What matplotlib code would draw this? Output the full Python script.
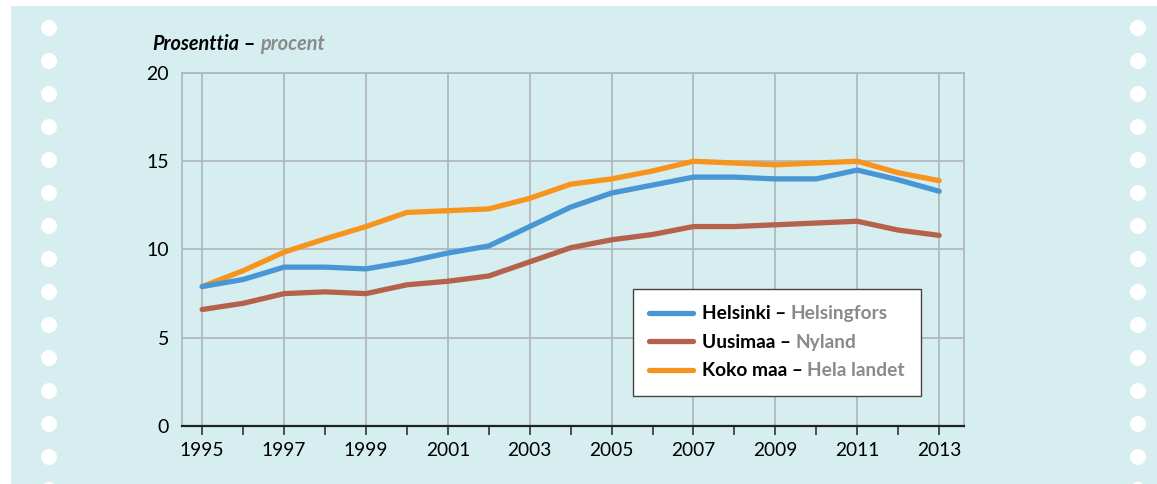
import matplotlib
matplotlib.use('Agg')
import matplotlib.pyplot as plt
from matplotlib.patches import Rectangle, Circle
from matplotlib.lines import Line2D

# Data
years = list(range(1995, 2014))
helsinki = [7.9, 8.3, 9.0, 9.0, 8.9, 9.3, 9.8, 10.2, 11.3, 12.4, 13.2, 13.65, 14.1, 14.1, 14.0, 14.0, 14.5, 13.95, 13.3]
uusimaa = [6.6, 6.95, 7.5, 7.6, 7.5, 8.0, 8.2, 8.5, 9.3, 10.1, 10.55, 10.85, 11.3, 11.3, 11.4, 11.5, 11.6, 11.1, 10.8]
koko_maa = [7.9, 8.8, 9.85, 10.6, 11.3, 12.1, 12.2, 12.3, 12.9, 13.7, 14.0, 14.45, 15.0, 14.9, 14.8, 14.9, 15.0, 14.35, 13.9]

labels_fi = ['Helsinki', 'Uusimaa', 'Koko maa']
labels_sv = ['Helsingfors', 'Nyland', 'Hela landet']
y_ticks = [0, 5, 10, 15, 20]
x_labels = list(range(1995, 2014, 2))

colors = {'helsinki': '#4896D3', 'uusimaa': '#B5614B', 'koko_maa': '#F7941E'}
bg = '#D6EEF0'
grid_c = '#AEB4B8'
grey_txt = '#8A8A8A'

plt.rcParams['font.family'] = ['Lato', 'DejaVu Sans']

fig = plt.figure(figsize=(11.57, 4.84), dpi=100)
W, H = 1157, 484

# panel background and punched holes
fig.patches.append(Rectangle((11 / W, 0), 1 - 11 / W, 1 - 6 / H, transform=fig.transFigure,
                             facecolor=bg, edgecolor='none', zorder=-2))
for cx in (49, 1138):
    for i in range(15):
        cy = 28 + 33 * i
        fig.patches.append(Circle((cx, H - cy), 8, transform=None, facecolor='white',
                                  edgecolor='none', zorder=-1))

ax = fig.add_axes([181.7 / W, (H - 426) / H, (963.7 - 181.7) / W, (426 - 73) / H])
ax.set_facecolor('none')
ax.set_zorder(2)

ax.plot(years, koko_maa, color=colors['koko_maa'], lw=3.8, solid_capstyle='round', zorder=3)
ax.plot(years, uusimaa, color=colors['uusimaa'], lw=3.8, solid_capstyle='round', zorder=4)
ax.plot(years, helsinki, color=colors['helsinki'], lw=3.8, solid_capstyle='round', zorder=5)

ax.set_xlim(1994.5, 2013.6)
ax.set_ylim(0, 20)
ax.set_yticks(y_ticks)
ax.set_xticks(years)
ax.set_xticklabels([str(y) if y in x_labels else '' for y in years])
ax.tick_params(axis='x', length=6.5, width=1.1, color='#222222', pad=5, labelsize=13.8)
ax.tick_params(axis='y', length=0, pad=9, labelsize=14)

for y in y_ticks[1:]:
    ax.axhline(y, color=grid_c, lw=1.2, zorder=1)
for x in x_labels:
    ax.axvline(x, color=grid_c, lw=1.2, zorder=1)

for side in ('left', 'top', 'right'):
    ax.spines[side].set_color(grid_c)
    ax.spines[side].set_linewidth(1.2)
ax.spines['bottom'].set_color('#222222')
ax.spines['bottom'].set_linewidth(1.6)
ax.spines['bottom'].set_zorder(6)

# legend
fs = 13.8
handles = [Line2D([], [], color=colors[k], lw=3.8, solid_capstyle='round')
           for k in ('helsinki', 'uusimaa', 'koko_maa')]
full = [f'{a} \u2013 {b}' for a, b in zip(labels_fi, labels_sv)]
leg = ax.legend(handles, full, loc='upper left', bbox_to_anchor=(0.577, 0.388), borderaxespad=0,
                fancybox=False, framealpha=1, edgecolor='#444444', facecolor='white',
                prop={'weight': 'bold', 'size': fs}, handlelength=2.3, handletextpad=0.45,
                borderpad=0.85, labelspacing=0.6)
leg.get_frame().set_linewidth(1.0)
leg.set_zorder(10)
fig.canvas.draw()
for txt, a, b in zip(leg.get_texts(), labels_fi, labels_sv):
    txt.set_alpha(0)
    t1 = ax.annotate(f'{a} \u2013 ', xy=(0, 0), xycoords=txt, va='bottom', ha='left',
                     fontsize=fs, fontweight='bold', color='black', zorder=11)
    ax.annotate(b, xy=(1, 0), xycoords=t1, va='bottom', ha='left',
                fontsize=fs, fontweight='bold', color=grey_txt, zorder=11)

# unit title
t1 = fig.text(152 / W, 1 - 44 / H, 'Prosenttia', fontsize=14.3, fontweight='bold', style='italic',
              va='center', ha='left', color='black', zorder=5)
t2 = fig.text(0, 0, ' \u2013 ', fontsize=14.3, fontweight='bold', va='bottom', ha='left', zorder=5)
fig.canvas.draw()
bb = t1.get_window_extent()
t2.set_position(fig.transFigure.inverted().transform((bb.x1, bb.y0)))
fig.canvas.draw()
bb = t2.get_window_extent()
fig.text(*fig.transFigure.inverted().transform((bb.x1, bb.y0)), 'procent', fontsize=14.3,
         fontweight='bold', style='italic', color=grey_txt, va='bottom', ha='left', zorder=5)

fig.savefig('out.png', dpi=100)
